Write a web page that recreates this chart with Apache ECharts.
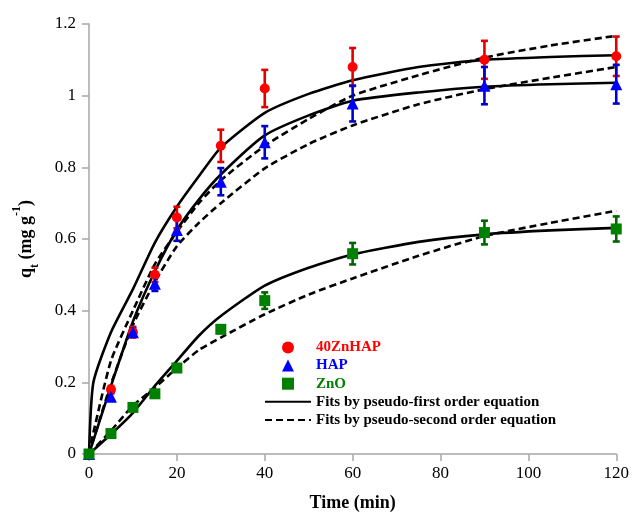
<!DOCTYPE html>
<html>
<head>
<meta charset="utf-8">
<script src="https://cdn.jsdelivr.net/npm/echarts@6/dist/echarts.min.js"></script>
<style>
  html, body { margin: 0; padding: 0; background: #fff; }
  #chart { width: 632px; height: 517px; }
</style>
</head>
<body>
<div id="chart"></div>
<script>
// measured points (time in min, q in mg/g)
const times = [0, 5, 10, 15, 20, 30, 40, 60, 90, 120];
const qZnHAP = [0, 0.18, 0.34, 0.50, 0.66, 0.86, 1.02, 1.08, 1.10, 1.11];
const errZnHAP = [0, 0.01, 0.015, 0.02, 0.03, 0.045, 0.052, 0.053, 0.053, 0.055];
const qHAP = [0, 0.16, 0.34, 0.475, 0.625, 0.76, 0.87, 0.978, 1.028, 1.032];
const errHAP = [0, 0.01, 0.01, 0.02, 0.03, 0.038, 0.045, 0.05, 0.052, 0.054];
const qZnO = [0, 0.057, 0.13, 0.168, 0.24, 0.348, 0.428, 0.559, 0.618, 0.628];
const errZnO = [0, 0, 0, 0, 0, 0.01, 0.023, 0.03, 0.033, 0.035];

// fitted curves
const fitTimes = [0, 1, 5, 10, 15, 20, 25, 30, 40, 50, 60, 75, 90, 105, 120];
const pfoZnHAP = [0, 0.20, 0.34, 0.46, 0.59, 0.69, 0.775, 0.855, 0.952, 1.005, 1.043, 1.08, 1.10, 1.108, 1.113];
const psoZnHAP = [0, 0.06, 0.26, 0.40, 0.53, 0.62, 0.70, 0.764, 0.86, 0.935, 1.0, 1.057, 1.106, 1.14, 1.167];
const pfoHAP = [0, 0.038, 0.19, 0.37, 0.51, 0.625, 0.71, 0.78, 0.889, 0.945, 0.986, 1.009, 1.025, 1.032, 1.036];
const psoHAP = [0, 0.04, 0.195, 0.36, 0.48, 0.58, 0.645, 0.70, 0.797, 0.865, 0.917, 0.976, 1.018, 1.05, 1.08];
const pfoZnO = [0, 0.011, 0.055, 0.115, 0.19, 0.26, 0.33, 0.385, 0.47, 0.52, 0.557, 0.592, 0.613, 0.624, 0.631];
const psoZnO = [0, 0.013, 0.065, 0.135, 0.185, 0.24, 0.29, 0.325, 0.39, 0.445, 0.49, 0.553, 0.608, 0.645, 0.679];

const PFO = 'Fits by pseudo-first order equation';
const PSO = 'Fits by pseudo-second order equation';
const FONT = 'Liberation Serif';

function pairs(xs, ys) {
  return xs.map((x, i) => [x, ys[i]]);
}

function fitLine(name, ys, dashed) {
  return {
    name: name,
    type: 'line',
    data: pairs(fitTimes, ys),
    smooth: 0.2,
    showSymbol: false,
    symbol: 'none',
    z: 2,
    lineStyle: { color: '#000', width: 2.6, type: dashed ? [7, 4] : 'solid' },
    itemStyle: { color: '#000' },
    silent: true
  };
}

function errorBars(ys, errs, color) {
  return {
    type: 'custom',
    z: 3,
    silent: true,
    data: times.map((t, i) => [t, ys[i] - errs[i], ys[i] + errs[i], errs[i]]),
    encode: { x: 0, y: [1, 2] },
    renderItem: function (params, api) {
      if (api.value(3) <= 0) return null;
      const t = api.value(0);
      const hi = api.coord([t, api.value(2)]);
      const lo = api.coord([t, api.value(1)]);
      const w = 3.5;
      const style = { stroke: color, lineWidth: 2.6 };
      return {
        type: 'group',
        children: [
          { type: 'line', shape: { x1: hi[0], y1: hi[1], x2: lo[0], y2: lo[1] }, style: style },
          { type: 'line', shape: { x1: hi[0] - w, y1: hi[1], x2: hi[0] + w, y2: hi[1] }, style: style },
          { type: 'line', shape: { x1: lo[0] - w, y1: lo[1], x2: lo[0] + w, y2: lo[1] }, style: style }
        ]
      };
    }
  };
}

function points(name, ys, symbol, size, color) {
  return {
    name: name,
    type: 'scatter',
    data: pairs(times, ys),
    symbol: symbol,
    symbolSize: size,
    z: 4,
    itemStyle: { color: color, opacity: 1 }
  };
}

const chart = echarts.init(document.getElementById('chart'));

const axisLine = { show: true, lineStyle: { color: '#a6a6a6', width: 1.5 } };
const axisTick = { show: true, inside: false, length: 7, lineStyle: { color: '#a6a6a6', width: 1.5 } };
const hidden = { color: 'rgba(0,0,0,0)', borderColor: 'rgba(0,0,0,0)', borderWidth: 0 };

chart.setOption({
  backgroundColor: '#fff',
  animation: false,
  grid: { left: 89, right: 15, top: 24, bottom: 59 },
  xAxis: {
    type: 'value',
    min: 0, max: 120, interval: 20,
    axisLine: axisLine,
    axisTick: axisTick,
    splitLine: { show: false },
    axisLabel: { color: '#000', fontFamily: FONT, fontSize: 17, margin: 11 },
    name: 'Time (min)',
    nameLocation: 'middle',
    nameGap: 40,
    nameTextStyle: { color: '#000', fontFamily: FONT, fontSize: 18, fontWeight: 'bold' }
  },
  yAxis: {
    type: 'value',
    min: 0, max: 1.2, interval: 0.2,
    axisLine: axisLine,
    axisTick: axisTick,
    splitLine: { show: false },
    axisLabel: { color: '#000', fontFamily: FONT, fontSize: 17, margin: 13 },
    name: '{b|q}{sub|t}{b| (mg g}{sup|-1}{b|)}',
    nameLocation: 'middle',
    nameGap: 52,
    nameTextStyle: {
      color: '#000', fontFamily: FONT, fontSize: 18, fontWeight: 'bold',
      rich: {
        b: { fontFamily: FONT, fontSize: 18, fontWeight: 'bold', color: '#000', lineHeight: 22, verticalAlign: 'middle' },
        sub: { fontFamily: FONT, fontSize: 12, fontWeight: 'bold', color: '#000', lineHeight: 22, verticalAlign: 'bottom', padding: [0, 0, -4, 0] },
        sup: { fontFamily: FONT, fontSize: 12, fontWeight: 'bold', color: '#000', lineHeight: 22, verticalAlign: 'top', padding: [-4, 0, 0, 0] }
      }
    }
  },
  legend: {
    orient: 'vertical',
    left: 264,
    top: 340,
    padding: 0,
    itemWidth: 46,
    itemHeight: 12,
    itemGap: 3.1,
    symbolKeepAspect: true,
    selectedMode: false,
    textStyle: { fontFamily: FONT, fontSize: 15, fontWeight: 'bold', color: '#000' },
    data: [
      { name: '40ZnHAP', icon: 'path://M0,5a5,5 0 1,0 10,0a5,5 0 1,0 -10,0Z', textStyle: { color: '#ff0000' } },
      { name: 'HAP', icon: 'path://M5,0L10,10L0,10Z', textStyle: { color: '#0000ff' } },
      { name: 'ZnO', icon: 'path://M0,0L10,0L10,10L0,10Z', textStyle: { color: '#008000' } },
      { name: PFO, itemStyle: hidden },
      { name: PSO, itemStyle: hidden }
    ]
  },
  series: [
    fitLine(PFO, pfoZnHAP, false),
    fitLine(PFO, pfoHAP, false),
    fitLine(PFO, pfoZnO, false),
    fitLine(PSO, psoZnHAP, true),
    fitLine(PSO, psoHAP, true),
    fitLine(PSO, psoZnO, true),
    errorBars(qZnHAP, errZnHAP, '#e00000'),
    errorBars(qHAP, errHAP, '#0000cc'),
    errorBars(qZnO, errZnO, '#006400'),
    points('40ZnHAP', qZnHAP, 'circle', 10, '#ff0000'),
    points('HAP', qHAP, 'triangle', 12, '#0000ff'),
    points('ZnO', qZnO, 'rect', 11, '#008000')
  ]
});
</script>
</body>
</html>
